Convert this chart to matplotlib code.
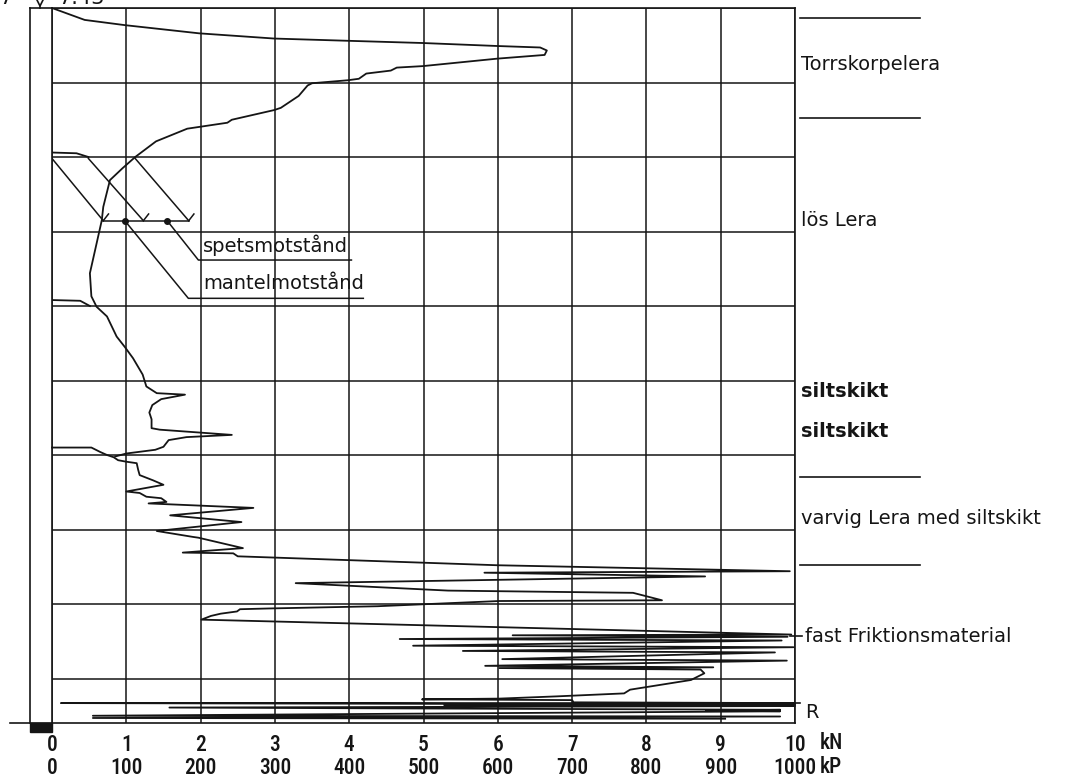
import matplotlib
matplotlib.use("Agg")
import matplotlib.pyplot as plt
from matplotlib import font_manager
from matplotlib.patches import Rectangle

# ---------------------------------------------------------------------------
# Data (x = resistance in kN, d = depth in m below top of rod)
# ---------------------------------------------------------------------------

upper_x = [0.00, 0.44, 0.98, 1.98, 2.99, 3.98, 4.99, 5.99, 6.57, 6.66, 6.63, 5.99,
           4.99, 4.64, 4.56, 4.23, 4.13, 3.98, 3.50, 3.44, 3.32, 3.26, 3.08, 2.99,
           2.42, 2.36, 1.82, 1.40, 1.12, 0.95, 0.78, 0.69, 0.67, 0.58, 0.51, 0.53,
           0.60, 0.74, 0.87, 0.98, 1.09, 1.22, 1.27, 1.41, 1.79, 1.47, 1.35, 1.31,
           1.34, 1.34, 1.45, 2.42, 1.81, 1.57, 1.50, 1.39, 1.00, 0.85]
upper_d = [0.00, 0.16, 0.23, 0.34, 0.41, 0.44, 0.47, 0.51, 0.53, 0.57, 0.63, 0.68,
           0.78, 0.80, 0.84, 0.88, 0.95, 0.97, 1.01, 1.04, 1.18, 1.22, 1.34, 1.37,
           1.50, 1.54, 1.62, 1.79, 2.00, 2.15, 2.31, 2.67, 2.85, 3.25, 3.56, 3.87,
           4.01, 4.14, 4.41, 4.55, 4.70, 4.92, 5.08, 5.17, 5.19, 5.25, 5.33, 5.43,
           5.52, 5.64, 5.66, 5.73, 5.76, 5.80, 5.89, 5.93, 5.98, 6.02]

lower_x = [0.00, 0.53, 0.65, 0.74, 0.83, 0.89, 1.00, 1.14, 1.16, 1.18, 1.36, 1.50,
           1.00, 1.18, 1.27, 1.47, 1.54, 1.30, 2.71, 1.59, 2.55, 1.41, 1.90, 1.97,
           2.57, 1.76, 2.44, 2.50, 6.00, 9.93, 5.82, 8.79, 3.28, 5.33, 7.82, 8.21,
           6.02, 4.38, 2.92, 2.53, 2.49, 2.27, 2.14, 2.01, 9.95, 6.20, 9.90, 4.68,
           9.82, 4.86, 9.98, 5.53, 9.73, 6.06, 9.89, 5.83, 8.90, 6.02, 8.73, 8.78,
           8.60, 7.78, 7.70, 6.79, 6.02, 4.98, 7.00, 7.02, 10.00, 0.12, 10.00, 5.28,
           10.00, 1.58, 9.80, 8.80, 9.80, 0.55, 9.80, 0.55, 9.06]
lower_d = [5.90, 5.90, 5.96, 6.00, 6.03, 6.07, 6.09, 6.11, 6.20, 6.27, 6.34, 6.40,
           6.49, 6.51, 6.56, 6.58, 6.63, 6.65, 6.71, 6.81, 6.90, 7.02, 7.10, 7.11,
           7.25, 7.31, 7.32, 7.36, 7.48, 7.56, 7.58, 7.63, 7.72, 7.82, 7.85, 7.95,
           7.96, 8.03, 8.06, 8.07, 8.10, 8.13, 8.16, 8.21, 8.41, 8.42, 8.44, 8.47,
           8.49, 8.56, 8.58, 8.63, 8.65, 8.74, 8.76, 8.83, 8.85, 8.86, 8.88, 8.93,
           9.02, 9.15, 9.20, 9.24, 9.27, 9.28, 9.29, 9.32, 9.33, 9.33, 9.35, 9.36,
           9.37, 9.39, 9.42, 9.43, 9.44, 9.50, 9.51, 9.53, 9.54]

# pen returns to zero at rod joints
joint1_x, joint1_d = [0.00, 0.33, 0.49], [1.94, 1.95, 2.00]
joint2_x, joint2_d = [0.00, 0.38, 0.51], [3.92, 3.93, 4.00]

# legend key: diagonals, bar and leaders
key_diag_x0 = [0.00, 0.49, 1.12]
key_diag_x1 = [0.69, 1.23, 1.84]
key_diag_d = [2.02, 2.855]
key_dots_x = [0.98, 1.55]
spets_x, spets_d = [1.55, 1.97, 4.03], [2.855, 3.383, 3.383]
mantel_x, mantel_d = [0.98, 1.835, 4.19], [2.855, 3.897, 3.897]

layer_bounds = [0.134, 1.477, 6.295, 7.477]
layer_names = ["Torrskorpelera", "lös Lera", "siltskikt", "siltskikt",
               "varvig Lera med siltskikt", "fast Friktionsmaterial", "R"]
layer_label_d = [0.765, 2.846, 5.154, 5.69, 6.846, 8.43, 9.46]

kN_ticks = list(range(11))
kP_ticks = list(range(0, 1001, 100))
level_text = "7.43"

# ---------------------------------------------------------------------------
# Figure
# ---------------------------------------------------------------------------

names = {f.name for f in font_manager.fontManager.ttflist}
num_font = "DejaVu Sans"
for cand in ["Liberation Sans Narrow", "Roboto Condensed", "DejaVu Sans Condensed",
             "Open Sans Condensed"]:
    if cand in names:
        num_font = cand
        break

INK = "#151515"
W, H = 1078, 783
x0_px, x10_px, top_px, bot_px = 52, 795, 8, 722.7
d_bottom = (bot_px - top_px) / 74.5
num_kw = dict(fontsize=15.5, family=num_font, fontweight="medium")

fig = plt.figure(figsize=(W / 100, H / 100), dpi=100)
ax = fig.add_axes([x0_px / W, 1 - bot_px / H, (x10_px - x0_px) / W, (bot_px - top_px) / H])
ax.set_xlim(0, 10)
ax.set_ylim(d_bottom, 0)

ax.set_xticks(kN_ticks)
ax.set_xticklabels([str(t) for t in kN_ticks], **num_kw)
ax.set_yticks(range(10))
ax.set_yticklabels([])
ax.tick_params(length=0)
ax.tick_params(axis="x", pad=8, colors=INK)
ax.grid(True, color=INK, lw=1.1)
for s in ax.spines.values():
    s.set_color(INK)
    s.set_linewidth(1.2)

sec = ax.secondary_xaxis("bottom", functions=(lambda v: v * 100, lambda v: v / 100))
sec.set_xticks(kP_ticks)
sec.set_xticklabels([str(t) for t in kP_ticks], **num_kw)
sec.tick_params(length=0, pad=25, colors=INK)
sec.spines["bottom"].set_visible(False)

ax.text(10.33, 9.866, "kN", va="center", ha="left", color=INK, clip_on=False, **num_kw)
ax.text(10.33, 10.19, "kP", va="center", ha="left", color=INK, clip_on=False, **num_kw)

# curves
lw = 1.3
ax.plot(upper_x, upper_d, color=INK, lw=lw)
ax.plot(lower_x, lower_d, color=INK, lw=lw, clip_on=False)
ax.plot(joint1_x, joint1_d, color=INK, lw=lw)
ax.plot(joint2_x, joint2_d, color=INK, lw=lw)

# key
for a, b in zip(key_diag_x0, key_diag_x1):
    ax.plot([a, b], key_diag_d, color=INK, lw=1.1)
    ax.plot([b, b + 0.07], [key_diag_d[1], key_diag_d[1] - 0.09], color=INK, lw=1.1)
ax.plot([key_diag_x1[0], key_diag_x1[-1]], [key_diag_d[1]] * 2, color=INK, lw=1.1)
ax.plot(key_dots_x, [key_diag_d[1]] * 2, "o", color=INK, ms=4)
ax.plot(spets_x, spets_d, color=INK, lw=1.1)
ax.plot(mantel_x, mantel_d, color=INK, lw=1.1)
ax.text(2.03, 3.19, "spetsmotstånd", fontsize=14, va="center", color=INK)
ax.text(2.03, 3.70, "mantelmotstånd", fontsize=14, va="center", color=INK)

# rod column on the left
rod_l = -0.296
ax.plot([rod_l, rod_l], [0, d_bottom], color=INK, lw=1.2, clip_on=False)
ax.plot([rod_l, 0], [0, 0], color=INK, lw=1.2, clip_on=False)
ax.plot([-0.565, 0], [d_bottom, d_bottom], color=INK, lw=1.2, clip_on=False)
ax.add_patch(Rectangle((rod_l, d_bottom), -rod_l, 0.13, color=INK, clip_on=False))
ax.plot([-0.16, -0.16], [-0.06, 0], color=INK, lw=1.2, clip_on=False)
ax.plot([-0.16], [-0.075], marker="v", ms=6, mfc="white", mec=INK, mew=1.2, clip_on=False)
ax.text(0.08, -0.047, level_text, fontsize=15, va="baseline", color=INK, clip_on=False)
ax.text(-0.71, -0.047, "7", fontsize=15, va="baseline", color=INK, clip_on=False)

# soil layers on the right
for d in layer_bounds:
    ax.plot([10.07, 11.68], [d, d], color=INK, lw=1.2, clip_on=False)
for name, d in zip(layer_names, layer_label_d):
    weight = "bold" if name == "siltskikt" else "normal"
    x = 10.13 if name in ("fast Friktionsmaterial", "R") else 10.08
    ax.text(x, d, name, fontsize=14, va="center", ha="left", color=INK,
            fontweight=weight, clip_on=False)
ax.plot([9.93, 10.1], [8.43, 8.43], color=INK, lw=1.2, clip_on=False)
ax.plot([10.0, 10.07], [9.33, 9.33], color=INK, lw=1.2, clip_on=False)

fig.savefig("out.png", dpi=100, facecolor="white")
